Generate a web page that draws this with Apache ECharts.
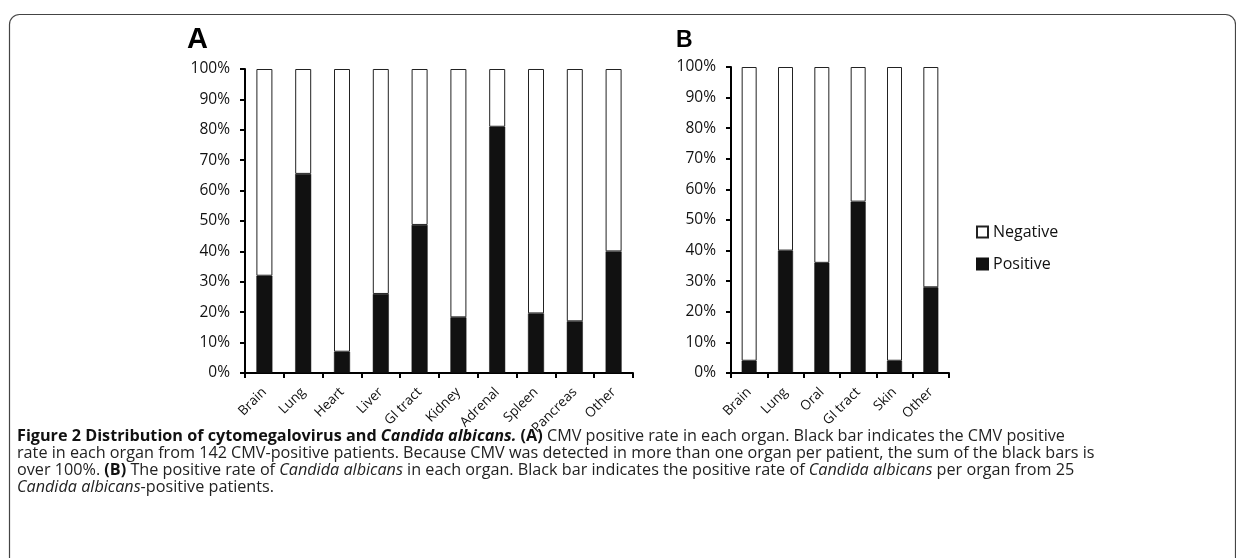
<!DOCTYPE html>
<html><head><meta charset="utf-8">
<script src="https://cdn.jsdelivr.net/npm/echarts@6/dist/echarts.min.js"></script>
<style>html,body{margin:0;padding:0;background:#fff}#c{width:1236px;height:558px}</style>
</head><body><div id="c"></div>
<script>
const catsA = ['Brain','Lung','Heart','Liver','GI tract','Kidney','Adrenal','Spleen','Pancreas','Other'];
const posA = [32, 65.5, 7, 26, 48.7, 18.3, 81, 19.6, 17, 40];
const negA = [68, 34.5, 93, 74, 51.3, 81.7, 19, 80.4, 83, 60];
const catsB = ['Brain','Lung','Oral','GI tract','Skin','Other'];
const posB = [4, 40, 36, 56, 4, 28];
const negB = [96, 60, 64, 44, 96, 72];

const FONT = '"Open Sans", "Noto Sans", sans-serif';
const chart = echarts.init(document.getElementById('c'), null, {renderer:'canvas'});

function xAx(idx, cats){
  return {type:'category', gridIndex:idx, data:cats, boundaryGap:true,
    axisLine:{show:true, lineStyle:{color:'#000', width:2}},
    axisTick:{show:true, alignWithLabel:false, length:5, lineStyle:{color:'#000', width:2}},
    axisLabel:{rotate:45, margin:17, color:'#111', fontSize:13.5, fontFamily:FONT},
    splitLine:{show:false}};
}
function yAx(idx){
  return {type:'value', gridIndex:idx, min:0, max:100, interval:10,
    axisLine:{show:true, lineStyle:{color:'#000', width:2}},
    axisTick:{show:true, length:5, lineStyle:{color:'#000', width:2}},
    axisLabel:{formatter:'{value}%', color:'#111', fontSize:15.5, fontFamily:FONT, margin:15},
    splitLine:{show:false}};
}
const LH = 17;
const FS = 16.2;
const capRich = {
  b:{fontFamily:FONT, fontWeight:'bold', fontSize:FS, fill:'#111', lineHeight:LH},
  bi:{fontFamily:FONT, fontWeight:'bold', fontStyle:'italic', fontSize:FS, fill:'#111', lineHeight:LH},
  n:{fontFamily:FONT, fontSize:FS, fill:'#222', lineHeight:LH},
  i:{fontFamily:FONT, fontStyle:'italic', fontSize:FS, fill:'#222', lineHeight:LH}
};
const capText =
 '{b|Figure 2 Distribution of cytomegalovirus and }{bi|Candida albicans.}{b| (A)}{n| CMV positive rate in each organ. Black bar indicates the CMV positive}\n' +
 '{n|rate in each organ from 142 CMV-positive patients. Because CMV was detected in more than one organ per patient, the sum of the black bars is}\n' +
 '{n|over 100%. }{b|(B)}{n| The positive rate of }{i|Candida albicans}{n| in each organ. Black bar indicates the positive rate of }{i|Candida albicans}{n| per organ from 25}\n' +
 '{i|Candida albicans}{n|-positive patients.}';

chart.setOption({
  animation:false,
  backgroundColor:'#fff',
  grid:[
    {left:245, top:69, width:388, height:304},
    {left:731, top:67, width:218, height:306}
  ],
  xAxis:[xAx(0,catsA), xAx(1,catsB)],
  yAxis:[yAx(0), yAx(1)],
  legend:{orient:'vertical', left:971, top:219, itemWidth:11, itemHeight:11, itemGap:16,
    icon:'rect', data:['Negative','Positive'],
    textStyle:{fontFamily:FONT, fontSize:16, color:'#111'}},
  series:[
    {name:'Positive', type:'bar', stack:'a', xAxisIndex:0, yAxisIndex:0, data:posA, barWidth:16,
      itemStyle:{color:'#111', borderColor:'#111', borderWidth:0.5}},
    {name:'Negative', type:'bar', stack:'a', xAxisIndex:0, yAxisIndex:0, data:negA, barWidth:16,
      itemStyle:{color:'#fff', borderColor:'#222', borderWidth:1}},
    {name:'Positive', type:'bar', stack:'b', xAxisIndex:1, yAxisIndex:1, data:posB, barWidth:15,
      itemStyle:{color:'#111', borderColor:'#111', borderWidth:0.5}},
    {name:'Negative', type:'bar', stack:'b', xAxisIndex:1, yAxisIndex:1, data:negB, barWidth:15,
      itemStyle:{color:'#fff', borderColor:'#222', borderWidth:1}}
  ],
  graphic:[
    {type:'rect', left:7, top:12, shape:{width:1226, height:560, r:10}, silent:true,
      style:{fill:'none', stroke:'#444', lineWidth:1.2}},
    {type:'text', left:187, top:25, style:{text:'A', font:'bold 29px "Liberation Sans", Arial, sans-serif', fill:'#000'}},
    {type:'text', left:676, top:29, style:{text:'B', font:'bold 23px "Liberation Sans", Arial, sans-serif', fill:'#000'}},
    {type:'text', left:17, top:428, style:{text:capText, rich:capRich}}
  ]
});
</script></body></html>
